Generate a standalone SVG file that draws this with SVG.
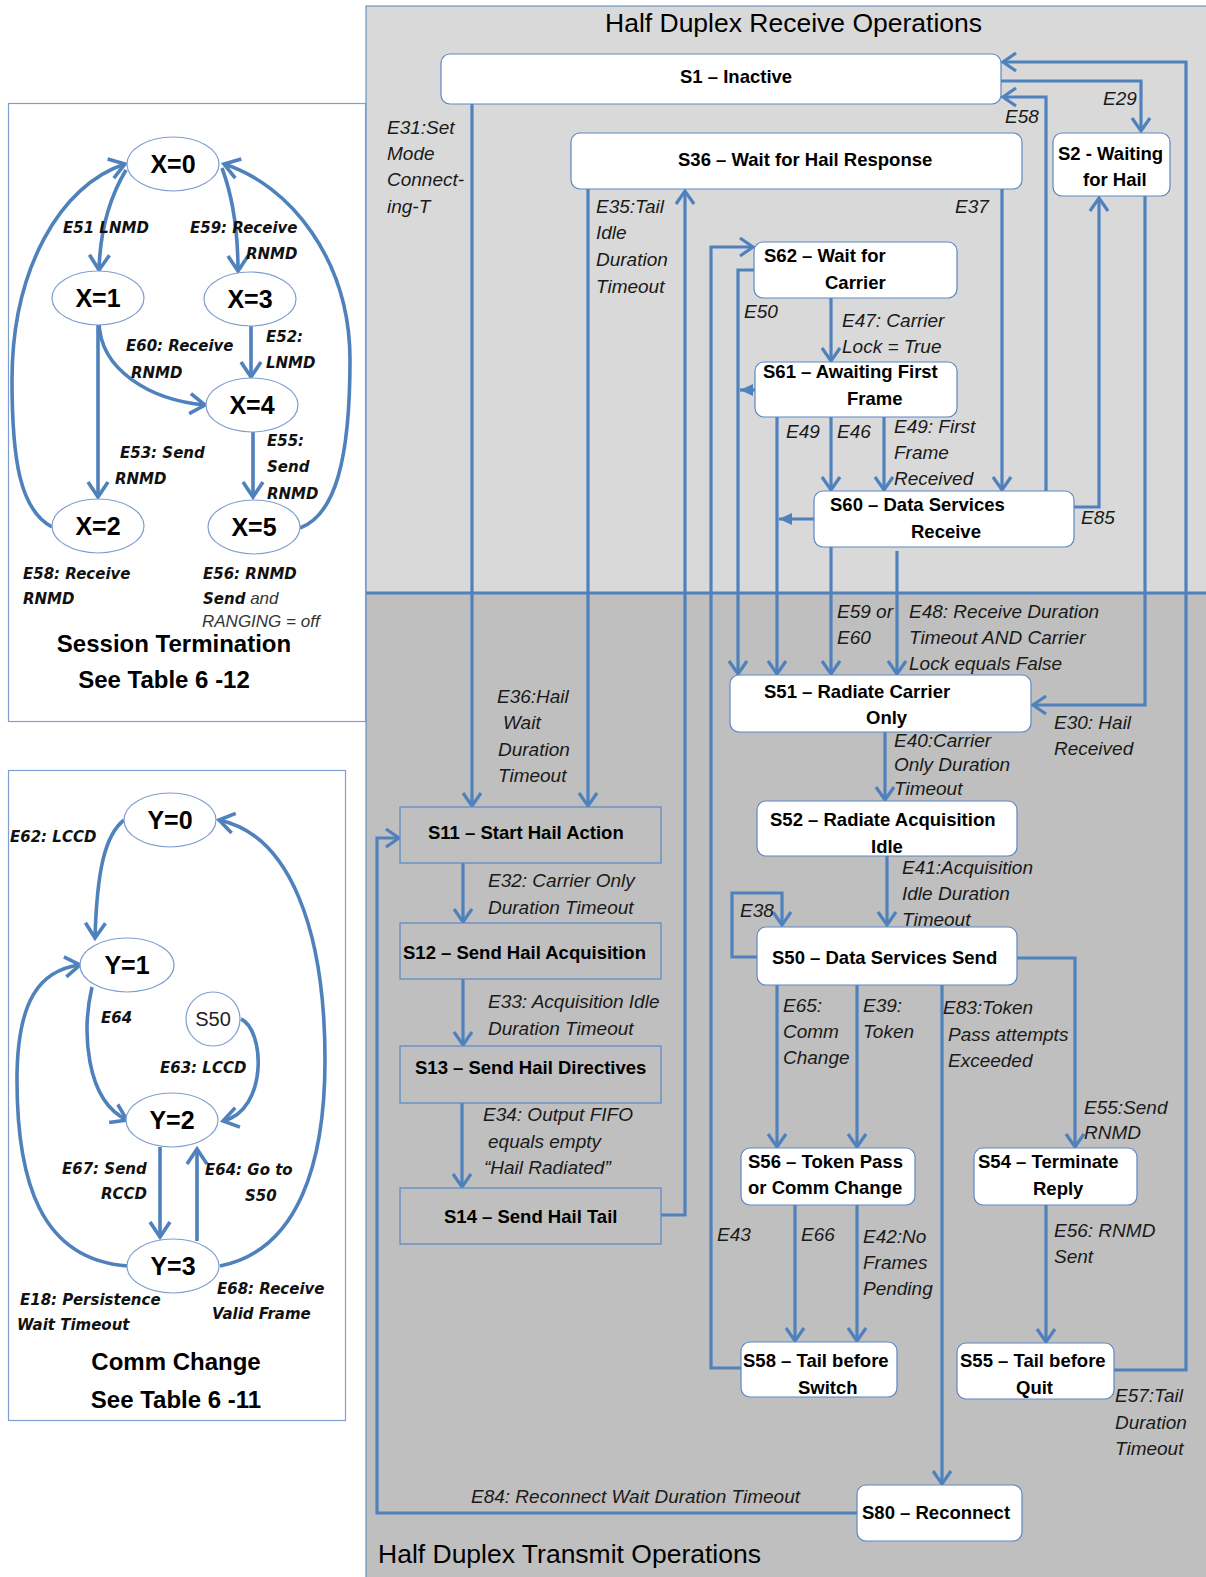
<svg xmlns="http://www.w3.org/2000/svg" width="1206" height="1577" viewBox="0 0 1206 1577">
<style>
.nd{font-family:"Liberation Sans",Arial,sans-serif;font-weight:bold;font-size:18.5px;fill:#000}
.lb{font-family:"Liberation Sans",Arial,sans-serif;font-style:italic;font-size:19px;fill:#1a1a1a}
.bi{font-family:"DejaVu Sans",Verdana,sans-serif;font-style:italic;font-weight:bold;font-size:15px;fill:#111}
.ri{font-family:"Liberation Sans",Arial,sans-serif;font-style:italic;font-size:17px;fill:#333}
.el{font-family:"Liberation Sans",Arial,sans-serif;font-weight:bold;font-size:25px;fill:#000}
.tt{font-family:"Liberation Sans",Arial,sans-serif;font-weight:bold;font-size:24px;fill:#000}
.hd{font-family:"Liberation Sans",Arial,sans-serif;font-size:26.5px;fill:#000}
.wb{fill:#fff;stroke:#5b87c5;stroke-width:1.2}
.gb{fill:#bfbfbf;stroke:#5b87c5;stroke-width:1.2}
.ell{fill:#fff;stroke:#7f9fcf;stroke-width:1.2}
.c{fill:none;stroke:#4f81bd;stroke-width:3.2}
.c2{fill:none;stroke:#4f81bd;stroke-width:3.6}
</style>
<defs>
<marker id="ah" markerUnits="userSpaceOnUse" markerWidth="22" markerHeight="22" viewBox="0 0 22 22" refX="17" refY="11" orient="auto">
<path d="M4,2 L17,11 L4,20" fill="none" stroke="#4f81bd" stroke-width="3.2"/>
</marker>
<marker id="ah2" markerUnits="userSpaceOnUse" markerWidth="24" markerHeight="24" viewBox="0 0 24 24" refX="19" refY="12" orient="auto">
<path d="M4,2 L19,12 L4,22" fill="none" stroke="#4f81bd" stroke-width="3.6"/>
</marker>
<marker id="fa" markerUnits="userSpaceOnUse" markerWidth="14" markerHeight="14" viewBox="0 0 14 14" refX="13" refY="7" orient="auto">
<path d="M0,1 L13,7 L0,13 z" fill="#4f81bd"/>
</marker>
</defs>

<!-- panels -->
<rect x="366" y="6" width="845" height="587" fill="#d9d9d9" stroke="#4f81bd" stroke-width="1"/>
<rect x="366" y="593" width="845" height="990" fill="#bfbfbf" stroke="#4f81bd" stroke-width="1"/>
<line x1="366" y1="593" x2="1206" y2="593" stroke="#4f81bd" stroke-width="3"/>
<text class="hd" x="605" y="32">Half Duplex Receive Operations</text>
<text class="hd" x="378" y="1563" font-size="27">Half Duplex Transmit Operations</text>

<!-- left boxes -->
<rect x="8.5" y="103.5" width="357" height="618" fill="#fff" stroke="#7f9fcf" stroke-width="1.2"/>
<rect x="8.5" y="770.5" width="337" height="650" fill="#fff" stroke="#7f9fcf" stroke-width="1.2"/>

<!-- connectors -->
<g id="connectors">
<path class="c" d="M472,104 V806" marker-end="url(#ah)"/>
<path class="c" d="M588,189 V806" marker-end="url(#ah)"/>
<path class="c" d="M661,1215 H685 V191" marker-end="url(#ah)"/>
<path class="c" d="M741,1368 H711 V247 H753" marker-end="url(#ah)"/>
<path class="c" d="M754,270 H738 V674" marker-end="url(#ah)"/>
<path class="c" d="M767,390 H740" marker-end="url(#fa)"/>
<path class="c" d="M814,519 H779" marker-end="url(#fa)"/>
<path class="c" d="M777,417 V674" marker-end="url(#ah)"/>
<path class="c" d="M831,298 V361" marker-end="url(#ah)"/>
<path class="c" d="M831,417 V490" marker-end="url(#ah)"/>
<path class="c" d="M884,417 V490" marker-end="url(#ah)"/>
<path class="c" d="M1002,189 V490" marker-end="url(#ah)"/>
<path class="c" d="M1046,491 V97 H1003" marker-end="url(#ah)"/>
<path class="c" d="M1001,81 H1141 V131" marker-end="url(#ah)"/>
<path class="c" d="M1114,1370 H1186 V62 H1003" marker-end="url(#ah)"/>
<path class="c" d="M1074,507 H1099 V198" marker-end="url(#ah)"/>
<path class="c" d="M1145,196 V705 H1033" marker-end="url(#ah)"/>
<path class="c" d="M831,547 V674" marker-end="url(#ah)"/>
<path class="c" d="M897,551 V674" marker-end="url(#ah)"/>
<path class="c" d="M885,732 V800" marker-end="url(#ah)"/>
<path class="c" d="M887,856 V925" marker-end="url(#ah)"/>
<path class="c" d="M757,957 H732 V893 H782 V925" marker-end="url(#ah)"/>
<path class="c" d="M777,985 V1147" marker-end="url(#ah)"/>
<path class="c" d="M857,985 V1147" marker-end="url(#ah)"/>
<path class="c" d="M942,985 V1484" marker-end="url(#ah)"/>
<path class="c" d="M1017,958 H1075 V1147" marker-end="url(#ah)"/>
<path class="c" d="M1046,1205 V1342" marker-end="url(#ah)"/>
<path class="c" d="M795,1205 V1341" marker-end="url(#ah)"/>
<path class="c" d="M857,1205 V1341" marker-end="url(#ah)"/>
<path class="c" d="M857,1513 H377 V838 H399" marker-end="url(#ah)"/>
<path class="c" d="M463,863 V922" marker-end="url(#ah)"/>
<path class="c" d="M463,979 V1045" marker-end="url(#ah)"/>
<path class="c" d="M462,1103 V1187" marker-end="url(#ah)"/>
<path class="c2" d="M126,170 C108,200 100,235 99,270" marker-end="url(#ah2)"/>
<path class="c2" d="M222,168 C232,195 238,230 238,271" marker-end="url(#ah2)"/>
<path class="c2" d="M99,322 C100,370 150,400 205,405" marker-end="url(#ah2)"/>
<path class="c2" d="M98,322 V497" marker-end="url(#ah2)"/>
<path class="c2" d="M251,325 V377" marker-end="url(#ah2)"/>
<path class="c2" d="M253,431 V497" marker-end="url(#ah2)"/>
<path class="c2" d="M52,527 C20,510 12,460 12,380 C12,270 60,185 125,164" marker-end="url(#ah2)"/>
<path class="c2" d="M300,528 C335,515 350,460 350,360 C350,260 290,185 224,164" marker-end="url(#ah2)"/>
<path class="c2" d="M124,820 C105,835 97,870 95,938" marker-end="url(#ah2)"/>
<path class="c2" d="M92,987 C82,1030 85,1100 127,1120" marker-end="url(#ah2)"/>
<path class="c2" d="M241,1019 C265,1030 268,1110 223,1121" marker-end="url(#ah2)"/>
<path class="c2" d="M160,1147 V1237" marker-end="url(#ah2)"/>
<path class="c2" d="M197,1241 V1149" marker-end="url(#ah2)"/>
<path class="c2" d="M128,1266 C40,1260 17,1180 17,1080 C17,1000 40,970 80,965" marker-end="url(#ah2)"/>
<path class="c2" d="M220,1266 C300,1250 325,1160 325,1060 C325,930 290,835 219,820" marker-end="url(#ah2)"/>
</g>

<!-- nodes -->
<g id="S1"><rect class="wb" x="441" y="54" width="560" height="50" rx="9"/><text class="nd" x="680" y="83">S1 – Inactive</text></g>
<g id="S36"><rect class="wb" x="571" y="133" width="451" height="56" rx="9"/><text class="nd" x="678" y="166">S36 – Wait for Hail Response</text></g>
<g id="S2"><rect class="wb" x="1053" y="133" width="117" height="63" rx="9"/><text class="nd" x="1058" y="160">S2 - Waiting</text><text class="nd" x="1083" y="186">for Hail</text></g>
<g id="S62"><rect class="wb" x="754" y="242" width="203" height="56" rx="9"/><text class="nd" x="764" y="262">S62 – Wait for</text><text class="nd" x="825" y="289">Carrier</text></g>
<g id="S61"><rect class="wb" x="755" y="362" width="202" height="55" rx="9"/><text class="nd" x="763" y="378">S61 – Awaiting First</text><text class="nd" x="847" y="405">Frame</text></g>
<g id="S60"><rect class="wb" x="814" y="491" width="260" height="56" rx="9"/><text class="nd" x="830" y="511">S60 – Data Services</text><text class="nd" x="911" y="538">Receive</text></g>
<g id="S51"><rect class="wb" x="730" y="675" width="301" height="57" rx="9"/><text class="nd" x="764" y="698">S51 – Radiate Carrier</text><text class="nd" x="866" y="724">Only</text></g>
<g id="S52"><rect class="wb" x="757" y="801" width="260" height="55" rx="9"/><text class="nd" x="770" y="826">S52 – Radiate Acquisition</text><text class="nd" x="871" y="853">Idle</text></g>
<g id="S50"><rect class="wb" x="757" y="927" width="260" height="58" rx="9"/><text class="nd" x="772" y="964">S50 – Data Services Send</text></g>
<g id="S11"><rect class="gb" x="400" y="807" width="261" height="56"/><text class="nd" x="428" y="839">S11 – Start Hail Action</text></g>
<g id="S12"><rect class="gb" x="400" y="923" width="261" height="56"/><text class="nd" x="403" y="959">S12 – Send Hail Acquisition</text></g>
<g id="S13"><rect class="gb" x="400" y="1046" width="261" height="57"/><text class="nd" x="415" y="1074">S13 – Send Hail Directives</text></g>
<g id="S14"><rect class="gb" x="400" y="1188" width="261" height="56"/><text class="nd" x="444" y="1223">S14 – Send Hail Tail</text></g>
<g id="S56"><rect class="wb" x="741" y="1148" width="174" height="57" rx="9"/><text class="nd" x="748" y="1168">S56 – Token Pass</text><text class="nd" x="748" y="1194">or Comm Change</text></g>
<g id="S54"><rect class="wb" x="974" y="1148" width="163" height="57" rx="9"/><text class="nd" x="978" y="1168">S54 – Terminate</text><text class="nd" x="1033" y="1195">Reply</text></g>
<g id="S58"><rect class="wb" x="741" y="1342" width="156" height="55" rx="9"/><text class="nd" x="743" y="1367">S58 – Tail before</text><text class="nd" x="798" y="1394">Switch</text></g>
<g id="S55"><rect class="wb" x="957" y="1343" width="157" height="56" rx="9"/><text class="nd" x="960" y="1367">S55 – Tail before</text><text class="nd" x="1016" y="1394">Quit</text></g>
<g id="S80"><rect class="wb" x="857" y="1485" width="165" height="56" rx="9"/><text class="nd" x="862" y="1519">S80 – Reconnect</text></g>

<g id="X0"><ellipse class="ell" cx="173" cy="164" rx="46" ry="27"/><text class="el" x="173" y="173" text-anchor="middle">X=0</text></g>
<g id="X1"><ellipse class="ell" cx="98" cy="298" rx="46" ry="27"/><text class="el" x="98" y="307" text-anchor="middle">X=1</text></g>
<g id="X3"><ellipse class="ell" cx="250" cy="299" rx="46" ry="27"/><text class="el" x="250" y="308" text-anchor="middle">X=3</text></g>
<g id="X4"><ellipse class="ell" cx="252" cy="405" rx="46" ry="27"/><text class="el" x="252" y="414" text-anchor="middle">X=4</text></g>
<g id="X2"><ellipse class="ell" cx="98" cy="526" rx="46" ry="27"/><text class="el" x="98" y="535" text-anchor="middle">X=2</text></g>
<g id="X5"><ellipse class="ell" cx="254" cy="527" rx="46" ry="27"/><text class="el" x="254" y="536" text-anchor="middle">X=5</text></g>

<g id="Y0"><ellipse class="ell" cx="170" cy="820" rx="46" ry="27"/><text class="el" x="170" y="829" text-anchor="middle">Y=0</text></g>
<g id="Y1"><ellipse class="ell" cx="127" cy="965" rx="47" ry="27"/><text class="el" x="127" y="974" text-anchor="middle">Y=1</text></g>
<g id="S50c"><ellipse class="ell" cx="213" cy="1019" rx="27" ry="27"/><text x="213" y="1026" text-anchor="middle" font-family="Liberation Sans, Arial, sans-serif" font-size="20" fill="#222">S50</text></g>
<g id="Y2"><ellipse class="ell" cx="172" cy="1120" rx="46" ry="27"/><text class="el" x="172" y="1129" text-anchor="middle">Y=2</text></g>
<g id="Y3"><ellipse class="ell" cx="173" cy="1266" rx="46" ry="27"/><text class="el" x="173" y="1275" text-anchor="middle">Y=3</text></g>

<g id="labels">
<text class="lb" x="387" y="134">E31:Set</text>
<text class="lb" x="387" y="160">Mode</text>
<text class="lb" x="387" y="186">Connect-</text>
<text class="lb" x="387" y="213">ing-T</text>
<text class="lb" x="596" y="213">E35:Tail</text>
<text class="lb" x="596" y="239">Idle</text>
<text class="lb" x="596" y="266">Duration</text>
<text class="lb" x="596" y="293">Timeout</text>
<text class="lb" x="744" y="318">E50</text>
<text class="lb" x="955" y="213">E37</text>
<text class="lb" x="1005" y="123">E58</text>
<text class="lb" x="1103" y="105">E29</text>
<text class="lb" x="842" y="327">E47: Carrier</text>
<text class="lb" x="842" y="353">Lock = True</text>
<text class="lb" x="786" y="438">E49</text>
<text class="lb" x="837" y="438">E46</text>
<text class="lb" x="894" y="433">E49: First</text>
<text class="lb" x="894" y="459">Frame</text>
<text class="lb" x="894" y="485">Received</text>
<text class="lb" x="1081" y="524">E85</text>
<text class="lb" x="837" y="618">E59 or</text>
<text class="lb" x="837" y="644">E60</text>
<text class="lb" x="909" y="618">E48: Receive Duration</text>
<text class="lb" x="909" y="644">Timeout AND Carrier</text>
<text class="lb" x="909" y="670">Lock equals False</text>
<text class="lb" x="1054" y="729">E30: Hail</text>
<text class="lb" x="1054" y="755">Received</text>
<text class="lb" x="894" y="747">E40:Carrier</text>
<text class="lb" x="894" y="771">Only Duration</text>
<text class="lb" x="894" y="795">Timeout</text>
<text class="lb" x="902" y="874">E41:Acquisition</text>
<text class="lb" x="902" y="900">Idle Duration</text>
<text class="lb" x="902" y="926">Timeout</text>
<text class="lb" x="497" y="703">E36:Hail</text>
<text class="lb" x="503" y="729">Wait</text>
<text class="lb" x="498" y="756">Duration</text>
<text class="lb" x="498" y="782">Timeout</text>
<text class="lb" x="488" y="887">E32: Carrier Only</text>
<text class="lb" x="488" y="914">Duration Timeout</text>
<text class="lb" x="740" y="917">E38</text>
<text class="lb" x="488" y="1008">E33: Acquisition Idle</text>
<text class="lb" x="488" y="1035">Duration Timeout</text>
<text class="lb" x="483" y="1121">E34: Output FIFO</text>
<text class="lb" x="488" y="1148">equals empty</text>
<text class="lb" x="484" y="1174">“Hail Radiated”</text>
<text class="lb" x="717" y="1241">E43</text>
<text class="lb" x="783" y="1012">E65:</text>
<text class="lb" x="783" y="1038">Comm</text>
<text class="lb" x="783" y="1064">Change</text>
<text class="lb" x="863" y="1012">E39:</text>
<text class="lb" x="863" y="1038">Token</text>
<text class="lb" x="943" y="1014">E83:Token</text>
<text class="lb" x="948" y="1041">Pass attempts</text>
<text class="lb" x="948" y="1067">Exceeded</text>
<text class="lb" x="1084" y="1114">E55:Send</text>
<text class="lb" x="1084" y="1139">RNMD</text>
<text class="lb" x="801" y="1241">E66</text>
<text class="lb" x="863" y="1243">E42:No</text>
<text class="lb" x="863" y="1269">Frames</text>
<text class="lb" x="863" y="1295">Pending</text>
<text class="lb" x="1054" y="1237">E56: RNMD</text>
<text class="lb" x="1054" y="1263">Sent</text>
<text class="lb" x="1115" y="1402">E57:Tail</text>
<text class="lb" x="1115" y="1429">Duration</text>
<text class="lb" x="1115" y="1455">Timeout</text>
<text class="lb" x="471" y="1503">E84: Reconnect Wait Duration Timeout</text>

<text class="bi" x="63" y="233">E51  LNMD</text>
<text class="bi" x="190" y="233">E59: Receive</text>
<text class="bi" x="246" y="259">RNMD</text>
<text class="bi" x="126" y="351">E60: Receive</text>
<text class="bi" x="131" y="378">RNMD</text>
<text class="bi" x="266" y="342">E52:</text>
<text class="bi" x="266" y="368">LNMD</text>
<text class="bi" x="120" y="458">E53: Send</text>
<text class="bi" x="115" y="484">RNMD</text>
<text class="bi" x="267" y="446">E55:</text>
<text class="bi" x="267" y="472">Send</text>
<text class="bi" x="267" y="499">RNMD</text>
<text class="bi" x="23" y="579">E58: Receive</text>
<text class="bi" x="23" y="604">RNMD</text>
<text class="bi" x="203" y="579">E56: RNMD</text>
<text x="203" y="604"><tspan class="bi">Send</tspan><tspan class="ri"> and</tspan></text>
<text class="ri" x="202" y="627">RANGING = off</text>
<text class="tt" x="174" y="652" text-anchor="middle">Session Termination</text>
<text class="tt" x="164" y="688" text-anchor="middle">See Table 6 -12</text>

<text class="bi" x="10" y="842">E62: LCCD</text>
<text class="bi" x="101" y="1023">E64</text>
<text class="bi" x="160" y="1073">E63: LCCD</text>
<text class="bi" x="62" y="1174">E67: Send</text>
<text class="bi" x="101" y="1199">RCCD</text>
<text class="bi" x="205" y="1175">E64: Go to</text>
<text class="bi" x="245" y="1201">S50</text>
<text class="bi" x="20" y="1305">E18: Persistence</text>
<text class="bi" x="17" y="1330">Wait Timeout</text>
<text class="bi" x="217" y="1294">E68: Receive</text>
<text class="bi" x="212" y="1319">Valid Frame</text>
<text class="tt" x="176" y="1370" text-anchor="middle">Comm  Change</text>
<text class="tt" x="176" y="1408" text-anchor="middle">See Table 6 -11</text>
</g>
</svg>
